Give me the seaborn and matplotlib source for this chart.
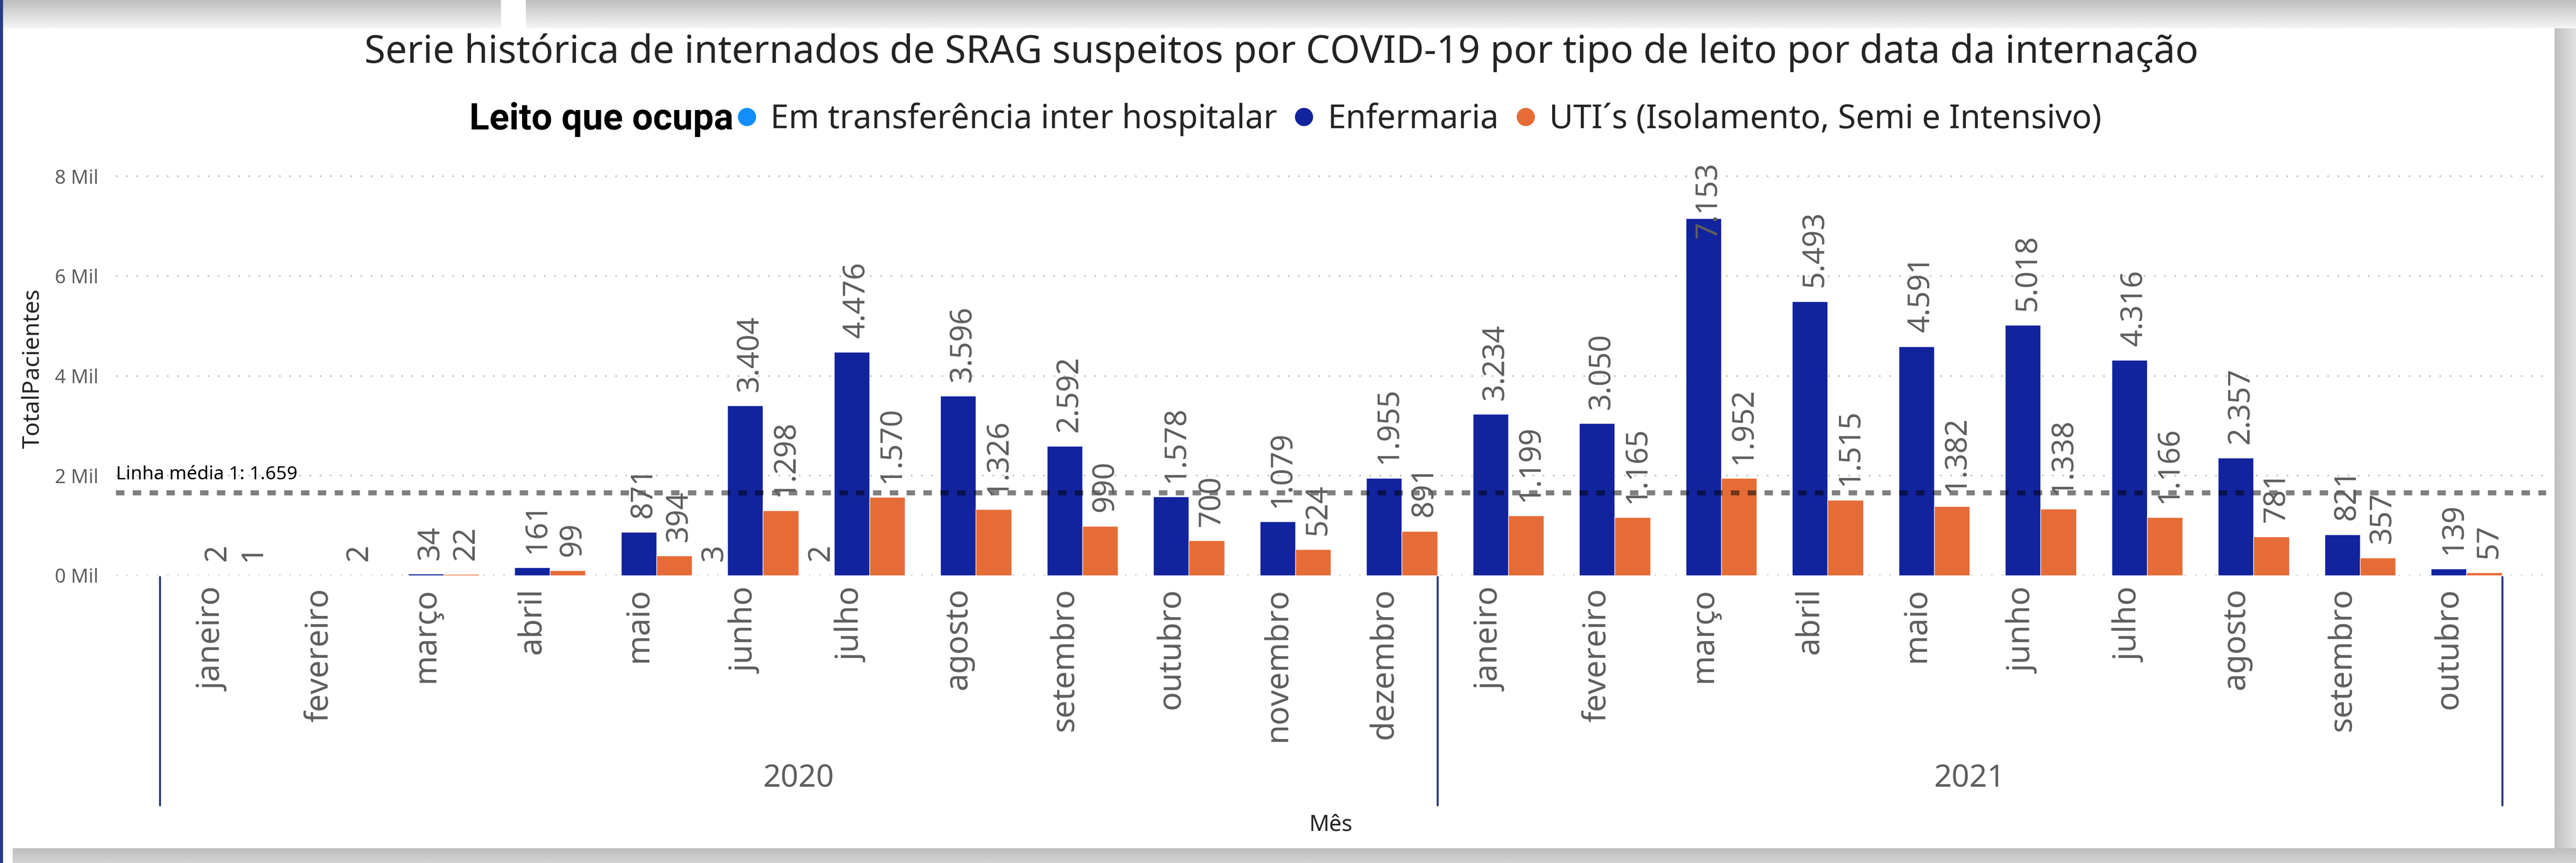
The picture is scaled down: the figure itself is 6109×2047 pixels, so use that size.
import matplotlib as mpl
mpl.use('Agg')

import matplotlib.pyplot as plt
import numpy as np
import pandas as pd
import seaborn as sns
from matplotlib.lines import Line2D
from matplotlib.patches import Rectangle

nan = np.nan

anos = ['2020'] * 12 + ['2021'] * 10
meses = ['janeiro', 'fevereiro', 'março', 'abril', 'maio', 'junho', 'julho',
         'agosto', 'setembro', 'outubro', 'novembro', 'dezembro',
         'janeiro', 'fevereiro', 'março', 'abril', 'maio', 'junho', 'julho',
         'agosto', 'setembro', 'outubro']
transferencia = [nan, nan, nan, nan, nan, 3, 2, nan, nan, nan, nan, nan,
                 nan, nan, nan, nan, nan, nan, nan, nan, nan, nan]
enfermaria = [2, nan, 34, 161, 871, 3404, 4476, 3596, 2592, 1578, 1079, 1955,
              3234, 3050, 7153, 5493, 4591, 5018, 4316, 2357, 821, 139]
uti = [1, 2, 22, 99, 394, 1298, 1570, 1326, 990, 700, 524, 891,
       1199, 1165, 1952, 1515, 1382, 1338, 1166, 781, 357, 57]
leitos = ['Em transferência inter hospitalar', 'Enfermaria',
          'UTI´s (Isolamento, Semi e Intensivo)']
cores = ['#118DFF', '#12239E', '#E66C37']
media = 1659
yticks = [0, 2000, 4000, 6000, 8000]
ytick_labels = ['0 Mil', '2 Mil', '4 Mil', '6 Mil', '8 Mil']

chaves = [f'{a}-{i:02d}' for i, a in enumerate(anos)]
linhas = []
for leito, serie in zip(leitos, [transferencia, enfermaria, uti]):
    for chave, v in zip(chaves, serie):
        if not np.isnan(v):
            linhas.append({'chave': chave, 'leito': leito, 'total': v})
dset = pd.DataFrame(linhas)

sns.set_style('white')
plt.rcParams['font.family'] = ['Noto Sans', 'DejaVu Sans']

W, H, DPI = 6109, 2047, 100
fig = plt.figure(figsize=(W / DPI, H / DPI), dpi=DPI)

# moldura / sombra do painel
bg = fig.add_axes([0, 0, 1, 1], zorder=-10)
def faixa(x0, x1, y0, y1, c0, c1, horizontal=False):
    g = np.linspace(c0, c1, 64)
    arr = g[None, :] if horizontal else g[:, None]
    bg.imshow(arr, cmap='gray', vmin=0, vmax=255, extent=(x0, x1, y1, y0),
              aspect='auto', interpolation='bilinear')
faixa(5, 1188, 0, 67, 190, 245)
faixa(1247, W, 0, 67, 190, 245)
faixa(6058, W, 67, 2012, 192, 225, horizontal=True)
faixa(30, W, 2012, H, 190, 212)
bg.add_patch(Rectangle((0, 0), 6, H, color='#2B3A80'))
bg.set_xlim(0, W)
bg.set_ylim(H, 0)
bg.axis('off')

ax_l, ax_r, ax_t, ax_b = 275, 6038, 384, 1365
ax = fig.add_axes([ax_l / W, 1 - ax_b / H, (ax_r - ax_l) / W, (ax_b - ax_t) / H])

sns.barplot(data=dset, x='chave', y='total', hue='leito', order=chaves,
            hue_order=leitos, palette=cores, width=1.0, saturation=1,
            errorbar=None, legend=False, ax=ax, zorder=2)

unit = (ax_b - 418) / 8000
ax.set_ylim(0, (ax_b - ax_t) / unit)
ax.set_xlim(-0.5 - (378.5 - ax_l) / 252.5, 21.5 + (ax_r - 5933.5) / 252.5)
sns.despine(ax=ax, left=True, bottom=True)
ax.set_axisbelow(True)

gray = '#605E5C'
ax.set_yticks(yticks)
ax.set_yticklabels(ytick_labels)
ax.yaxis.grid(True, color='#C8C6C4', linewidth=2.9, linestyle=(0, (1, 5)))
ax.tick_params(axis='y', length=0, pad=30, labelsize=33, labelcolor=gray)
ax.set_xticks(range(len(meses)))
ax.set_xticklabels(meses)
ax.tick_params(axis='x', length=0, pad=21, labelsize=54, labelcolor=gray,
               labelrotation=90)

ax.set_ylabel('TotalPacientes', fontsize=40, color='#252423')
ax.yaxis.set_label_coords((105 - ax_l) / (ax_r - ax_l), 0.5)
ax.set_xlabel('Mês', fontsize=38, color='#252423')
ax.xaxis.label.set_va('center')
ax.xaxis.set_label_coords(0.5, -(1958 - ax_b) / (ax_b - ax_t))

# linha média
ax.axhline(media, color='black', alpha=0.5, linewidth=8.6,
           linestyle=(0, (1.67, 1.67)), zorder=3)
ax.text(0.0, (ax_b - 1137) / unit, 'Linha média 1: ' + f'{media:,}'.replace(',', '.'),
        transform=ax.get_yaxis_transform(), fontsize=32, color='black',
        ha='left', va='baseline', zorder=4)

# separadores dos anos
h_ax = ax_b - ax_t
for xs in [-0.5, 11.5, 21.5]:
    ax.plot([xs, xs], [-(1368 - ax_b) / h_ax, -(1910 - ax_b) / h_ax],
            transform=ax.get_xaxis_transform(), color='#2B3A80', lw=3.4,
            clip_on=False)
for xa, ano in [(5.5, '2020'), (16.5, '2021')]:
    ax.text(xa, -(1847 - ax_b) / h_ax, ano, transform=ax.get_xaxis_transform(),
            ha='center', va='center', fontsize=53, color=gray)

# rótulos de dados
rotulos = []
for p in ax.patches:
    v = p.get_height()
    if np.isnan(v) or v <= 0:
        continue
    xc = p.get_x() + p.get_width() / 2
    t = ax.annotate(f'{int(round(v)):,}'.replace(',', '.'), xy=(xc, v),
                    xytext=(8, 24), textcoords='offset points', rotation=90,
                    ha='center', va='bottom', fontsize=51, color=gray,
                    zorder=5, annotation_clip=False)
    rotulos.append(t)

# título e legenda
fig.text(3039 / W, 1 - 125 / H,
         'Serie histórica de internados de SRAG suspeitos por COVID-19 por tipo de leito por data da internação',
         ha='center', va='center', fontsize=65.5, color='#252423')
handles = [Line2D([], [], marker='o', linestyle='none', markersize=30,
                  markerfacecolor=c, markeredgecolor=c) for c in cores]
fig.legend(handles, leitos, loc='center left',
           bbox_to_anchor=(1750 / W, 1 - 283 / H), ncol=3, frameon=False,
           fontsize=56, handlelength=0.54, handletextpad=0.45,
           columnspacing=0.55, borderpad=0, borderaxespad=0,
           labelcolor='#252423')
fig.text(1740 / W, 1 - 283 / H, 'Leito que ocupa', ha='right', va='center',
         fontsize=63, fontweight='bold', family=['Roboto', 'DejaVu Sans'],
         color='black')

# rótulos que passam do topo ficam dentro da área do gráfico
fig.canvas.draw()
r = fig.canvas.get_renderer()
topo = ax.get_window_extent(r).y1
for t in rotulos:
    bb = t.get_window_extent(r)
    if bb.y1 > topo:
        dx, dy = t.xyann
        t.xyann = (dx, dy - (bb.y1 - topo) * 72 / DPI)

fig.savefig('out.png', dpi=DPI)
plt.close(fig)
